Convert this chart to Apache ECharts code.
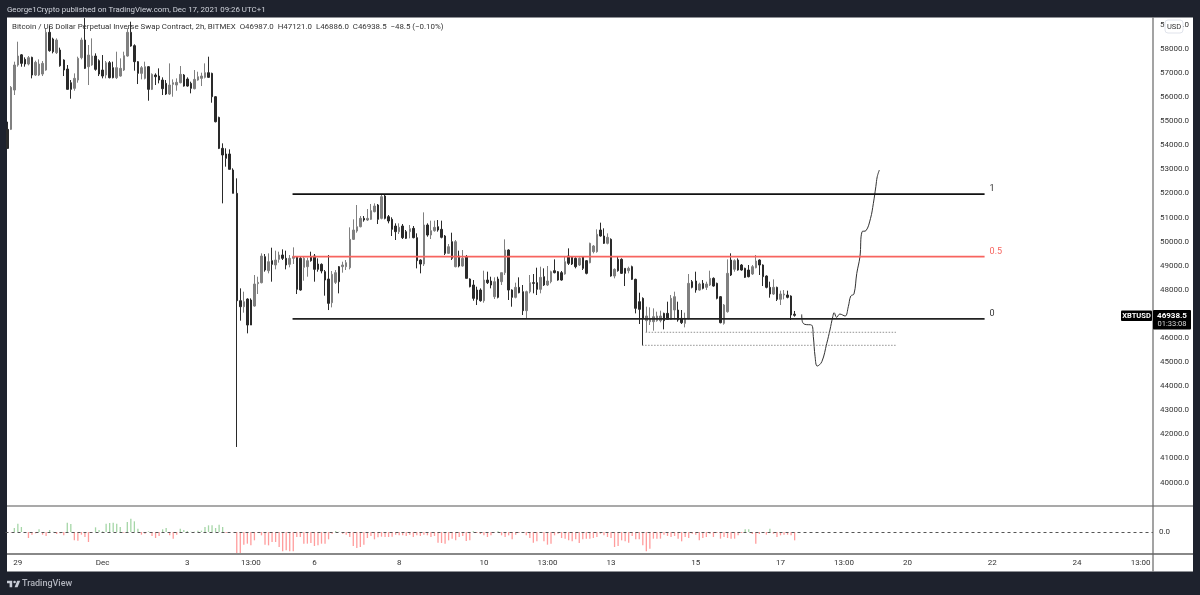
<!DOCTYPE html>
<html>
<head>
<meta charset="utf-8">
<title>XBTUSD</title>
<script src="https://cdn.jsdelivr.net/npm/echarts@6/dist/echarts.min.js"></script>
<style>
html,body{margin:0;padding:0;background:#1e222d;}
#chart{width:1200px;height:595px;}
</style>
</head>
<body>
<div id="chart"></div>
<script>
// 2h candles
var opens = [
54660,54660,56293,57331,57754,57567,57373,57650,56916,56916,56957,57124,58688,58411,57843,57954,57539,57165,56598,56362,
56708,57636,58369,57262,57331,57705,57511,57124,56916,57428,57221,56805,56874,57124,57705,58688,58134,57470,56985,56778,
57262,56321,56916,56874,56708,56570,56127,56529,56501,56598,56916,56750,56570,56349,56708,56778,56819,57013,56985,56016,
55158,53873,53638,53638,52973,52004,47548,47299,47617,47576,47326,48254,48295,49375,48794,49209,49029,49264,49444,49306,
49056,49306,49375,49306,48932,48960,49375,49403,49070,49056,48752,48448,47465,48309,48960,48960,48960,48918,50094,50440,
50620,50966,50897,50925,51243,51520,50966,51894,51036,50925,50648,50413,50648,50413,50413,50551,50164,49236,49070,50690,
50274,50454,50620,50510,50233,49513,49998,48960,49403,48987,49375,48448,48198,47991,47991,47548,48406,48365,47714,48448,
48337,48711,49652,47991,47687,48102,47922,47133,47922,48296,48296,48019,48545,48199,48337,48794,48752,48711,48656,49403,
49348,49306,49029,49375,49209,49126,49583,49583,50482,50233,49929,50095,48572,49264,49264,48891,48794,48960,48434,47507,
47645,46718,46676,46676,46718,46718,47022,47022,46773,47161,47161,46815,46607,46815,48337,48365,47991,48268,48102,48199,
48476,48268,47714,46607,47092,49237,48849,49237,49029,48891,48822,48656,48918,49237,49029,48572,48102,47825,48102,47604,
47784,47784,47742,46987];
var closes = [
53871,56404,57331,57705,57400,57373,57636,56916,57442,57373,57400,58688,57926,57885,58369,57303,57124,56321,56321,56778,
57608,58369,57193,57746,57705,57151,56957,56874,57428,56805,56805,57221,57193,57719,58688,58120,57470,56985,57221,57262,
56321,56944,56847,56708,56349,56127,56501,56598,56612,56944,56459,56459,56362,56736,56847,56874,57013,56819,56016,54978,
53871,53596,53458,53001,52004,47548,47299,47506,46538,46538,48240,48309,49402,48821,49167,49056,49236,49444,49306,49029,
49306,49375,48018,47991,49306,49209,49209,48849,48849,48780,48406,47437,48641,48711,48337,49029,49126,50094,50482,50620,
50966,50897,50966,51285,51478,50925,51866,50966,50856,50510,50413,50593,50164,50136,50537,50164,49209,49070,50690,50274,
50454,50593,50482,50178,49513,49790,49306,49998,48987,49306,48475,48129,47645,47603,47548,48406,48295,48198,48337,47687,
48711,49652,47991,47687,48102,47880,47133,47922,48296,48268,48019,48517,48199,48365,48752,48711,48406,48406,49168,49098,
49071,48960,49306,48891,48683,49929,49818,50302,50233,49929,50178,48572,48849,48794,48683,48683,48891,48434,47230,47188,
46815,46912,46815,46884,46912,46912,46718,46773,47645,47714,46746,46635,46815,48268,48102,47991,48240,48060,48240,48476,
48157,47645,46635,47368,48683,48614,49209,48822,48822,48517,48545,48960,49195,49029,48545,48102,47825,48102,47604,47825,
47825,47687,46953,46938.5];
var lows = [
53871,54632,56086,57262,57262,57262,57317,56778,56874,56874,56874,57096,57885,57816,57788,57262,56874,56321,55933,56265,
56598,57566,57165,56501,57303,57096,56874,56778,56778,56778,56778,56750,56847,57082,57677,58092,57096,56542,56736,56736,
55850,56293,56501,56570,56086,56086,56086,56016,56265,56570,56432,56432,56155,56321,56681,56459,56778,56805,55767,54950,
53843,51589,53112,53001,52004,41475,46718,47050,46192,46538,47299,47825,48267,48752,48683,48337,48849,49126,49236,48849,
48932,49070,47825,47963,48378,48544,49167,48337,48752,48683,47756,47160,47271,48240,47852,48711,48821,48849,50067,50371,
50592,50828,50855,50897,51215,50731,50925,50925,50759,50233,50067,50316,50108,50108,50136,50136,48890,48683,48987,50205,
50108,50413,50413,50136,49444,49486,49236,48932,48932,48960,48475,48102,47548,47368,47506,47465,48240,48060,47617,47645,
48199,48614,47576,47299,47645,47853,46953,46815,47853,47853,47784,47853,48157,48157,48268,48683,48379,48379,48628,49029,
49029,48891,48988,48822,48642,49098,49514,49541,50206,49901,49887,48545,48476,48752,48656,48157,48683,48406,47022,46580,
45694,46247,46538,46303,46676,46649,46358,46746,46746,46773,46676,46580,46441,46773,48060,47880,47964,48019,47991,48157,
48130,47604,46607,46552,47050,48572,48752,48794,48794,48489,48517,48614,48891,48614,48157,48060,47673,47784,47535,47368,
47604,47645,46746,46886];
var highs = [
54978,56459,57470,58300,57788,57650,57705,57677,57511,57566,57497,58854,58950,58466,58438,58051,57566,57331,56708,56985,
57677,58466,59280,58162,58438,57816,57566,57746,57497,57497,57470,57885,57608,57885,58854,59130,58190,57497,57290,57470,
57290,56985,56985,57193,56819,56708,57400,56736,56778,57290,56957,56819,56640,57124,57054,57013,57400,57677,57013,56044,
55186,54080,53873,53831,53043,52627,48060,47922,47645,47645,48614,48544,49513,49486,49513,49748,49624,49582,49679,49624,
49444,49762,49403,49375,49403,49333,49582,49486,49306,49098,48821,49444,48780,48821,48987,49167,49236,50593,50925,51520,
51063,51063,51354,51562,51589,51562,51963,51935,51105,51008,50759,50759,50731,50482,50690,50648,50344,49264,51215,50759,
50870,50870,50897,50870,50274,49901,50371,50067,49624,49652,49444,48475,48406,48129,48060,48794,48752,48544,48517,48544,
48711,50095,49680,48019,48296,48517,48199,47964,48614,48655,48918,48960,48891,48988,48794,49264,48780,48780,49375,49721,
49403,49348,49348,49403,49237,49957,49860,50510,50787,50552,50344,50136,48891,49375,49306,48891,48960,49002,48462,47880,
47687,47299,47272,47230,47092,47133,47050,47507,47784,47922,47507,47161,47050,48655,48406,48752,48296,48406,48337,48794,
48517,48296,47742,47410,49264,49514,49264,49306,49071,48918,49029,49029,49444,49264,49057,48600,48337,48434,48130,47964,
47991,47964,47770,47121];

// oscillator pane, pane units
var histValues = [
-3,-1,12,25,15,-3,-18,-8,-4,8,-8,-12,6,1,-6,-4,-10,28,24,-25,
-26,-8,-15,-30,-1,14,6,2,25,27,28,25,15,-2,30,40,32,10,-8,-5,
2,-12,-18,-12,8,12,-10,-20,-8,10,6,3,1,1,4,4,15,20,20,12,
22,15,-3,-1,-1,-65,-66,-38,-35,-40,-25,-3,-10,-38,-40,-30,-30,-45,-58,-55,
-58,-58,-15,-15,-35,-35,-33,-42,-40,-35,-35,-22,-5,3,1,-5,-8,-15,-42,-48,
-45,-38,-18,-12,-22,-16,-14,-15,-15,-14,-8,-10,-10,-12,-8,-15,-10,
-12,-8,-10,-15,-12,-32,-33,-35,-25,-20,-25,-15,-12,-27,-25,2,-3,-6,-10,-15,
-10,-1,2,-10,-15,-10,-22,-8,-2,-2,-10,-18,-32,-28,-2,-28,-38,-35,-10,-5,
-18,-20,-25,-28,-22,-33,-22,-20,-20,-18,-15,-5,-10,-15,-18,-45,-42,-25,-28,-32,
-12,-22,-22,-40,-58,-50,-20,-20,-20,-8,-12,-15,-12,-20,-28,-15,-18,-5,-8,-25,
-18,-15,-5,-15,-3,-20,-15,-18,-20,-20,-10,-3,8,8,-6,-35,-6,-3,-8,10,
-5,-15,-10,-8,-8,-10,-25];

// hand drawn projection, [bar, price]
var forecastBars = [225,225.2,225.9,227.8,228.3,228.8,229.4,230.7,232.1,233,233.8,234.2,234.9,235.8,237.3,238.2,238.9,239.8,240.6,241.5,242.1,243.2,244.5,245.3,246,246.4,247];
var forecastPrices = [46980,46676,46565,46537,46053,45222,44835,45015,45776,46330,46883,47049,46856,46994,46911,47298,47741,47824,48682,49374,50412,50454,50966,51589,52281,52696,52973];

// range levels
var levelNames = ['1','0.5','0'];
var levelPrices = [51970,49375,46790];
var levelColors = ['#111111','#f7645f','#222222'];
var levelStart = 80.8, levelEnd = 276.8;

// dotted lows
var dottedPrices = [46236,45695];
var dottedStart = [180.8,179.8];
var dottedEnd = [251.7,252];

var barCount = 325;
var tickBars = [3,27,51,69,87,111,135,153,171,195,219,237,255,279,303,321];
var tickTexts = ['29','Dec','3','13:00','6','8','10','13:00','13','15','17','13:00','20','22','24','13:00'];

var categories = [];
for(var i=0;i<barCount;i++){
	var k = tickBars.indexOf(i);
	categories.push(k>=0 ? tickTexts[k] : '');
}

var candles = [];
for(var i=0;i<opens.length;i++){
	candles.push([opens[i],closes[i],lows[i],highs[i]]);
}

var forecast = [];
for(var i=0;i<forecastBars.length;i++){
	forecast.push([forecastBars[i],forecastPrices[i]]);
}

var seriesArray = [{
	type:'candlestick',
	xAxisIndex:0,
	yAxisIndex:0,
	barWidth:2,
	data:candles,
	itemStyle:{color:'#808080',color0:'#2a2a2a',borderColor:'#808080',borderColor0:'#2a2a2a',borderWidth:1},
	z:3
},{
	type:'bar',
	xAxisIndex:1,
	yAxisIndex:1,
	barWidth:1.3,
	data:histValues,
	itemStyle:{color:function(p){return p.value>=0 ? '#a5d6a7' : '#ff9c9c';}},
	markLine:{
		silent:true,
		symbol:'none',
		label:{show:false},
		lineStyle:{color:'#555',width:1,type:[3,3]},
		data:[{yAxis:0}]
	}
},{
	type:'line',
	xAxisIndex:2,
	yAxisIndex:0,
	data:forecast,
	smooth:0.4,
	showSymbol:false,
	lineStyle:{color:'#333',width:1},
	z:4
}];

for(var i=0;i<levelPrices.length;i++){
	seriesArray.push({
		type:'line',
		xAxisIndex:2,
		yAxisIndex:0,
		data:[[levelStart,levelPrices[i]],[levelEnd,levelPrices[i]]],
		showSymbol:false,
		lineStyle:{color:levelColors[i],width:1.8},
		endLabel:{
			show:true,
			formatter:levelNames[i],
			color:levelColors[i]=='#f7645f' ? '#f7645f' : '#333',
			fontSize:9,
			fontFamily:'Roboto',
			offset:[-3,-5]
		},
		z:5
	});
}
for(var i=0;i<dottedPrices.length;i++){
	seriesArray.push({
		type:'line',
		xAxisIndex:2,
		yAxisIndex:0,
		data:[[dottedStart[i],dottedPrices[i]],[dottedEnd[i],dottedPrices[i]]],
		showSymbol:false,
		lineStyle:{color:'#777',width:0.8,type:[1.5,1.5]},
		z:5
	});
}

var plotLeft = 5.5, plotWidth = 1147.5;

var option = {
	animation:false,
	backgroundColor:'#1e222d',
	grid:[
		{left:plotLeft,width:plotWidth,top:17.6,height:489},
		{left:plotLeft,width:plotWidth,top:506,height:48}
	],
	xAxis:[
		{type:'category',gridIndex:0,data:categories,show:false},
		{
			type:'category',gridIndex:1,data:categories,
			axisLine:{show:false},axisTick:{show:false},
			axisLabel:{
				interval:function(index,value){return value!=='';},
				color:'#333',fontSize:8,fontFamily:'Roboto',margin:5
			}
		},
		{type:'value',gridIndex:0,min:-0.5,max:barCount-0.5,show:false}
	],
	yAxis:[
		{
			type:'value',gridIndex:0,position:'right',min:39000,max:59300,interval:1000,
			splitLine:{show:false},
			axisLine:{show:false,onZero:false},
			axisTick:{show:false},
			axisLabel:{
				showMinLabel:false,showMaxLabel:false,
				color:'#333',fontSize:8,fontFamily:'Roboto',margin:7,
				formatter:function(v){return v.toFixed(1);}
			}
		},
		{
			type:'value',gridIndex:1,position:'right',min:-66,max:78,interval:66,
			splitLine:{show:false},
			axisLine:{show:false,onZero:false},
			axisTick:{show:false},
			axisLabel:{
				showMinLabel:false,showMaxLabel:false,
				color:'#333',fontSize:8,fontFamily:'Roboto',margin:6,
				formatter:function(v){return v===0 ? '0.0' : '';}
			}
		}
	],
	graphic:{
		elements:[
			{type:'rect',z:-1,silent:true,shape:{x:7,y:17.5,width:1186,height:554},style:{fill:'#ffffff'}},
			{type:'rect',z:20,silent:true,shape:{x:7,y:505.5,width:1186,height:1},style:{fill:'#555'}},
			{type:'rect',z:20,silent:true,shape:{x:7,y:553,width:1186,height:2},style:{fill:'#888'}},
			{type:'rect',z:20,silent:true,shape:{x:1152.4,y:17.5,width:1.2,height:554},style:{fill:'#666'}},
			{type:'text',z:20,x:7,y:10,style:{text:'George1Crypto published on TradingView.com, Dec 17, 2021 09:26 UTC+1',fill:'#d1d4dc',font:'7.9px Roboto',textVerticalAlign:'middle'}},
			{type:'text',z:20,x:12,y:27,style:{text:'Bitcoin / US Dollar Perpetual Inverse Swap Contract, 2h, BITMEX  O46987.0  H47121.0  L46886.0  C46938.5  \u221248.5 (\u22120.10%)',fill:'#333',font:'7.9px Roboto',textVerticalAlign:'middle'}},
			{type:'rect',z:20,silent:true,shape:{x:1165,y:20,width:18,height:13,r:3},style:{fill:'#fff',stroke:'#e0e3eb',lineWidth:1}},
			{type:'text',z:21,x:1174,y:27,style:{text:'USD',fill:'#333',font:'7.5px Roboto',textAlign:'center',textVerticalAlign:'middle'}},
			{type:'rect',z:22,silent:true,shape:{x:1121,y:310.5,width:31,height:10.5,r:1},style:{fill:'#000'}},
			{type:'text',z:23,x:1136.5,y:316,style:{text:'XBTUSD',fill:'#fff',font:'bold 7.5px Roboto',textAlign:'center',textVerticalAlign:'middle'}},
			{type:'rect',z:22,silent:true,shape:{x:1153,y:310,width:38,height:19.5,r:1},style:{fill:'#000'}},
			{type:'text',z:23,x:1172,y:316,style:{text:'46938.5',fill:'#fff',font:'bold 8px Roboto',textAlign:'center',textVerticalAlign:'middle'}},
			{type:'text',z:23,x:1172,y:324.5,style:{text:'01:33:08',fill:'#d8d8d8',font:'7.5px Roboto',textAlign:'center',textVerticalAlign:'middle'}},
			{type:'polygon',z:20,silent:true,shape:{points:[[7,580.7],[12.2,580.7],[12.2,587.2],[9.6,587.2],[9.6,583.3],[7,583.3]]},style:{fill:'#c8ccd6'}},
			{type:'polygon',z:20,silent:true,shape:{points:[[17.6,587.2],[14.6,587.2],[17.2,580.7],[20.2,580.7]]},style:{fill:'#c8ccd6'}},
			{type:'circle',z:20,silent:true,shape:{cx:14.6,cy:582,r:1.3},style:{fill:'#c8ccd6'}},
			{type:'text',z:20,x:22,y:583.5,style:{text:'TradingView',fill:'#b2b5be',font:'500 9px Roboto',textVerticalAlign:'middle'}}
		]
	},
	series:seriesArray
};

var myChart = echarts.init(document.getElementById('chart'));
myChart.setOption(option);
</script>
</body>
</html>
